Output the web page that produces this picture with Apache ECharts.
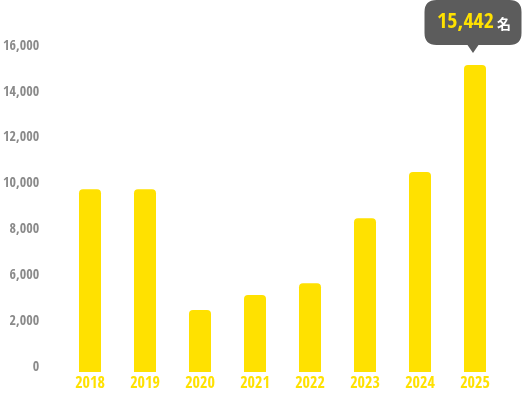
<!DOCTYPE html>
<html><head><meta charset="utf-8">
<script src="https://cdn.jsdelivr.net/npm/echarts@6/dist/echarts.min.js"></script>
<style>html,body{margin:0;padding:0;background:#fff}#c{width:524px;height:395px}</style>
</head><body><div id="c"></div>
<script>
const years = ['2018','2019','2020','2021','2022','2023','2024','2025'];
const members = [9190, 9190, 3120, 3870, 4460, 7730, 10060, 15442];
const yTickLabels = ['0','2,000','6,000','8,000','10,000','12,000','14,000','16,000'];
const calloutUnit = '名';

const FONT = '"Open Sans Condensed","Roboto Condensed",sans-serif';
const YEL = '#FFE100';
const last = members.length - 1;
const fmt = v => v.toLocaleString('en-US');

const chart = echarts.init(document.getElementById('c'), null, {renderer:'canvas'});
chart.setOption({
  animation:false,
  grid:[
    {left:62.5, right:21.5, top:54, bottom:23},
    {left:44, right:21, top:46, bottom:28}
  ],
  xAxis:[
    {type:'category', gridIndex:0, data:years,
     axisLine:{show:false}, axisTick:{show:false},
     axisLabel:{color:YEL, fontFamily:FONT, fontWeight:'bold', fontSize:16, margin:4}},
    {type:'value', gridIndex:1, show:false}
  ],
  yAxis:[
    {type:'value', gridIndex:0, min:0, max:16000, show:false},
    {type:'value', gridIndex:1, min:0, max:yTickLabels.length-1, interval:1,
     axisLine:{show:false}, axisTick:{show:false}, splitLine:{show:false},
     axisLabel:{color:'#8a8a8a', fontFamily:FONT, fontWeight:'bold', fontSize:14, margin:8,
       formatter:v => yTickLabels[v] || ''}}
  ],
  series:[{
    type:'bar', xAxisIndex:0, yAxisIndex:0,
    data:members, barWidth:22,
    itemStyle:{color:YEL, borderRadius:[4,4,0,0]},
    markPoint:{
      silent:true,
      symbol:'path://M12,0 L85,0 Q97,0 97,12 L97,33 Q97,45 85,45 L54,45 L48.5,53 L43,45 L12,45 Q0,45 0,33 L0,12 Q0,0 12,0 Z',
      symbolSize:[97,53],
      symbolOffset:[-2,-38.5],
      itemStyle:{color:'#5c5c5c'},
      label:{show:true, position:'inside', offset:[1,-4],
        formatter:p => '{a|' + fmt(p.value) + '}{b|' + calloutUnit + '}',
        rich:{
          a:{color:YEL, fontFamily:FONT, fontWeight:'bold', fontSize:22},
          b:{color:'#fff', fontFamily:'"Noto Sans CJK JP",sans-serif', fontWeight:'bold', fontSize:14, padding:[2,0,0,3]}
        }},
      data:[{coord:[years[last], members[last]], value:members[last]}]
    }
  }]
});
</script></body></html>
